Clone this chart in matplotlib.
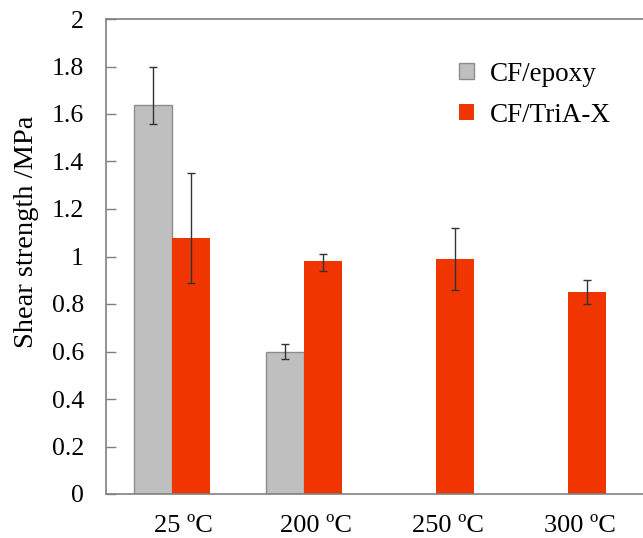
import numpy as np
import matplotlib
matplotlib.use('Agg')
import matplotlib.pyplot as plt

plt.rcParams['font.family'] = ['Liberation Serif', 'DejaVu Serif']

temps = ['25 ºC', '200 ºC', '250 ºC', '300 ºC']
epoxy = [1.64, 0.60, np.nan, np.nan]
epoxy_err_lo = [0.08, 0.03, 0, 0]
epoxy_err_hi = [0.16, 0.03, 0, 0]
tria = [1.08, 0.98, 0.99, 0.85]
tria_err_lo = [0.19, 0.04, 0.13, 0.05]
tria_err_hi = [0.27, 0.03, 0.13, 0.05]

gray = '#bfbfbf'
red = '#f03500'
w = 0.288

fig = plt.figure(figsize=(6.43, 5.38), dpi=100)
ax = fig.add_axes([106 / 643, 44 / 538, 1 - 106 / 643, 475 / 538])

x = np.arange(len(temps))
err_kw = dict(ecolor='#333333', elinewidth=1, capsize=3, capthick=1)

ax.bar(x - w / 2, epoxy, w, color=gray, edgecolor='#8c8c8c', linewidth=1,
       yerr=[epoxy_err_lo, epoxy_err_hi], error_kw=err_kw, label='CF/epoxy')
ax.bar(x + w / 2, tria, w, color=red, edgecolor='none',
       yerr=[tria_err_lo, tria_err_hi], error_kw=err_kw, label='CF/TriA-X')

ax.set_xlim(-0.5, -0.5 + 537 / 132)
ax.set_ylim(0, 2)
ax.set_yticks(np.arange(0, 2.01, 0.2))
ax.set_yticklabels(['0', '0.2', '0.4', '0.6', '0.8', '1', '1.2', '1.4', '1.6', '1.8', '2'])
ax.set_xticks(x + 0.09)
ax.set_xticklabels(temps)
ax.tick_params(axis='x', length=0, pad=15, labelsize=19)
ax.tick_params(axis='y', direction='in', length=7, width=1, color='#808080',
               labelsize=18.5, pad=16)

ax.set_ylabel('Shear strength /MPa', fontsize=20.5)
ax.yaxis.set_label_coords(-0.125, 0.553)

for s in ['left', 'bottom', 'top']:
    ax.spines[s].set_color('#808080')
    ax.spines[s].set_linewidth(1.2)
ax.spines['right'].set_visible(False)

ax.legend(loc='upper left', bbox_to_anchor=(0.612, 0.961), frameon=False,
          fontsize=19.5, handlelength=0.55, handleheight=0.55, labelspacing=0.58,
          handletextpad=0.6)

fig.savefig('out.png', dpi=100)
